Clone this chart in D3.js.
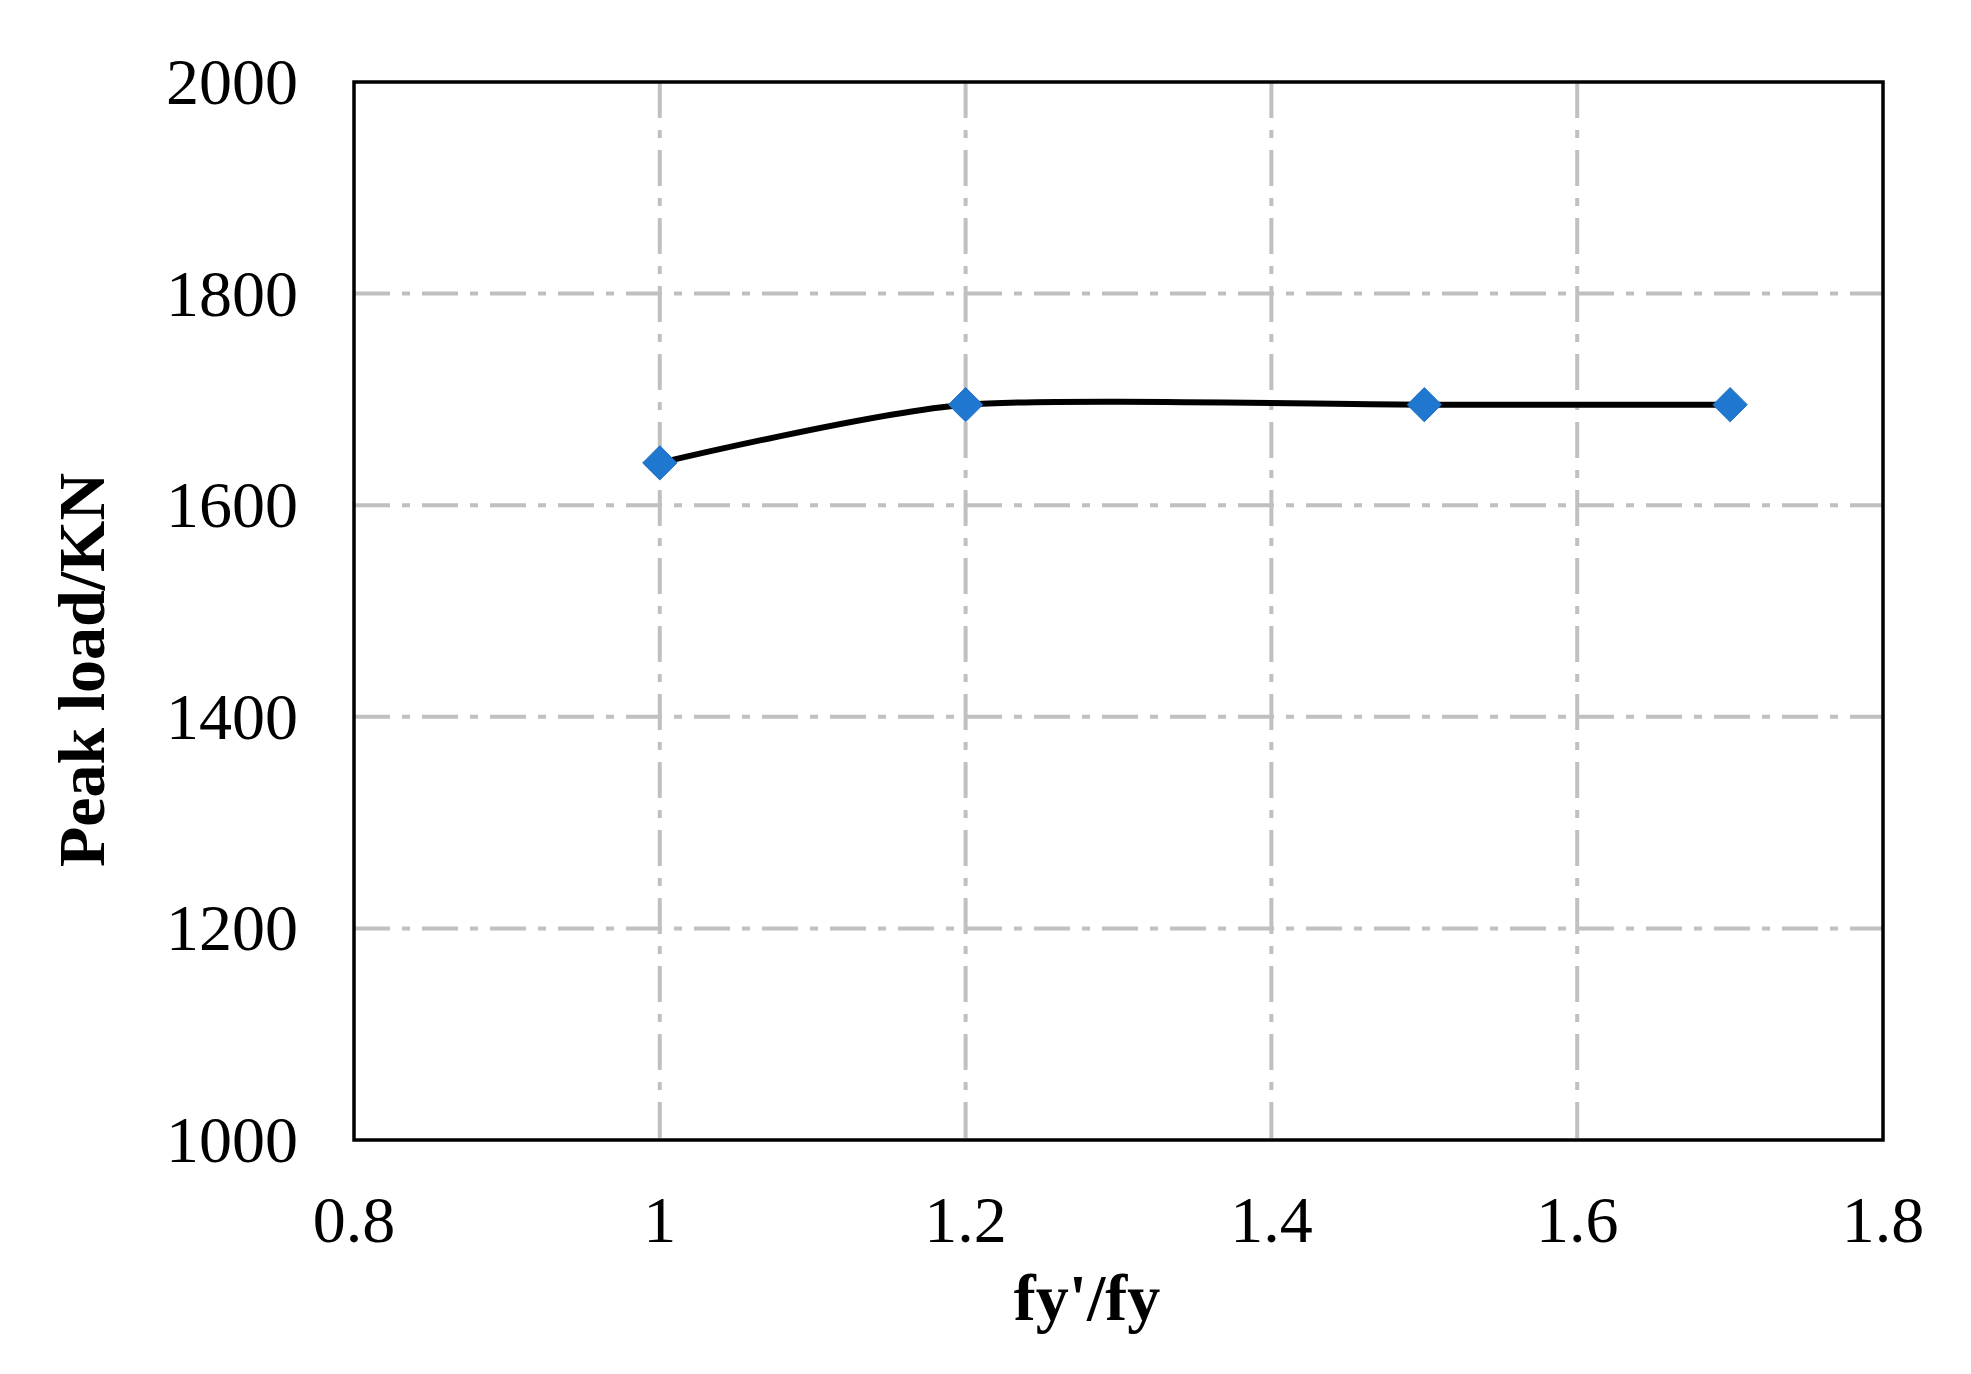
<!DOCTYPE html>
<html>
<head>
<meta charset="utf-8">
<script src="https://cdnjs.cloudflare.com/ajax/libs/d3/7.8.5/d3.min.js"></script>
<style>
  body { margin: 0; background: #fff; }
  text { font-family: "Liberation Serif", "Times New Roman", serif; }
</style>
</head>
<body>
<script>
  var ratio = [1, 1.2, 1.5, 1.7];
  var peakLoad = [1640, 1695, 1695, 1695];
  var xTicks = [0.8, 1, 1.2, 1.4, 1.6, 1.8];
  var yTicks = [1000, 1200, 1400, 1600, 1800, 2000];

  var W = 1971, H = 1374;
  var m = { left: 354, right: 88, top: 82, bottom: 234 };

  var svg = d3.select('body').append('svg')
    .attr('width', W).attr('height', H);

  var x = d3.scaleLinear().domain([0.8, 1.8]).range([m.left, W - m.right]);
  var y = d3.scaleLinear().domain([1000, 2000]).range([H - m.bottom, m.top]);

  // grid
  svg.selectAll('.vg').data(xTicks.slice(1, -1)).enter().append('line')
    .attr('x1', d => x(d)).attr('x2', d => x(d))
    .attr('y1', y(2000)).attr('y2', y(1000))
    .attr('stroke', '#c0c0c0').attr('stroke-width', 4)
    .attr('stroke-dasharray', '36,12,8,12');
  svg.selectAll('.hg').data(yTicks.slice(1, -1)).enter().append('line')
    .attr('x1', x(0.8)).attr('x2', x(1.8))
    .attr('y1', d => y(d)).attr('y2', d => y(d))
    .attr('stroke', '#c0c0c0').attr('stroke-width', 4)
    .attr('stroke-dasharray', '36,12,8,12');

  // frame
  svg.append('rect')
    .attr('x', x(0.8)).attr('y', y(2000))
    .attr('width', x(1.8) - x(0.8)).attr('height', y(1000) - y(2000))
    .attr('fill', 'none').attr('stroke', '#000').attr('stroke-width', 3.5);

  // tick labels
  svg.selectAll('.xt').data(xTicks).enter().append('text')
    .attr('x', d => x(d)).attr('y', y(1000) + 102)
    .attr('text-anchor', 'middle').attr('font-size', 66)
    .text(d => d);
  svg.selectAll('.yt').data(yTicks).enter().append('text')
    .attr('x', x(0.8) - 56).attr('y', d => y(d) + 22)
    .attr('text-anchor', 'end').attr('font-size', 66)
    .text(d => d);

  // axis titles
  svg.append('text')
    .attr('x', 1087).attr('y', y(1000) + 180)
    .attr('text-anchor', 'middle').attr('font-size', 66).attr('font-weight', 'bold')
    .text("fy'/fy");
  svg.append('text')
    .attr('transform', 'translate(104,' + 670 + ') rotate(-90)')
    .attr('text-anchor', 'middle').attr('font-size', 66).attr('font-weight', 'bold')
    .text('Peak load/KN');

  var pts = ratio.map((r, i) => [r, peakLoad[i]]);
  var line = d3.line().x(d => x(d[0])).y(d => y(d[1])).curve(d3.curveCardinal.tension(0.3));
  svg.append('path').datum(pts)
    .attr('d', line).attr('fill', 'none').attr('stroke', '#000').attr('stroke-width', 6);

  svg.selectAll('.pt').data(pts).enter().append('path')
    .attr('d', d3.symbol().type(d3.symbolDiamond2).size(750))
    .attr('transform', d => 'translate(' + x(d[0]) + ',' + y(d[1]) + ')')
    .attr('fill', '#1f77d0').attr('stroke', '#1f6fc4').attr('stroke-width', 1);
</script>
</body>
</html>
